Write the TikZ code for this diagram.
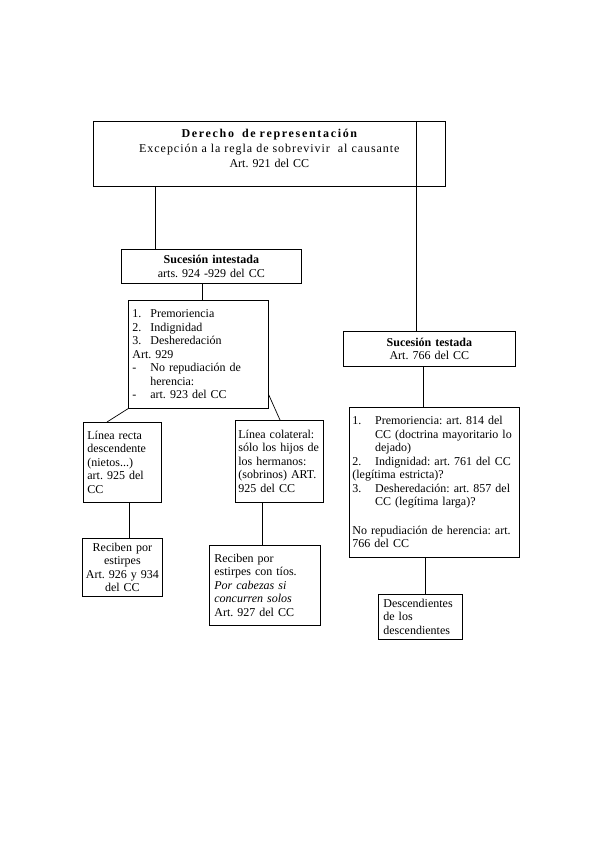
\documentclass[tikz,border=0pt]{standalone}
\usepackage{fontspec}
\setmainfont{Liberation Serif}
\frenchspacing
\tikzset{frame/.style={draw=black,line width=0.7pt,anchor=north west,inner xsep=3pt,inner ysep=2pt,
                       font=\fontsize{12}{13.5}\selectfont},
         conn/.style={draw=black,line width=0.7pt}}
\newcommand{\lnum}[1]{\makebox[1.5em][l]{#1}}
\newcommand{\rnum}[1]{\makebox[1.9em][l]{#1}}

\begin{document}
\begin{tikzpicture}[x=1pt,y=-1pt]
  \useasboundingbox (0,0) rectangle (589,848);
  % boxes placed at their top left corners, in pixels of the page
  \node[frame,font=\fontsize{12}{15}\selectfont,text width=346pt,minimum height=65pt,align=center] (derecho) at (93,121)
    {{\bfseries\addfontfeature{LetterSpace=14}Derecho \ de representación}\\
     {\addfontfeature{LetterSpace=8}Excepción a la regla de sobrevivir \ al causante}\\
     Art. 921 del CC\\[-4pt]\mbox{}};
  \node[frame,text width=174pt,minimum height=34pt,align=center] (intestada) at (121,249)
    {\textbf{Sucesión intestada}\\arts. 924 -929 del CC};
  \node[frame,inner xsep=4pt,text width=132pt,minimum height=108pt,align=left] (causas) at (128,300)
    {\lnum{1.}Premoriencia\\
     \lnum{2.}Indignidad\\
     \lnum{3.}Desheredación\\
     Art. 929\\
     \lnum{-}No repudiación de\\
     \hspace*{1.5em}herencia:\\
     \lnum{-}art. 923 del CC};
  \node[frame,inner xsep=4pt,text width=70pt,minimum height=80pt,align=left] (recta) at (83,422)
    {Línea recta\\descendente\\(nietos...)\\art. 925 del\\CC};
  \node[frame,text width=82pt,minimum height=82pt,align=left] (colateral) at (235,420)
    {Línea colateral:\\sólo los hijos de\\los hermanos:\\(sobrinos) ART.\\925 del CC};
  \node[frame,text width=74pt,minimum height=58pt,align=center] (estirpes) at (82,538)
    {Reciben por\\estirpes\\Art. 926 y 934\\del CC};
  \node[frame,inner xsep=5pt,text width=101pt,minimum height=80pt,align=left] (tios) at (209,545)
    {Reciben por\\estirpes con tíos.\\\textit{Por cabezas si}\\\textit{concurren solos}\\Art. 927 del CC};
  \node[frame,text width=166pt,minimum height=35pt,align=center] (testada) at (343,331)
    {\textbf{Sucesión testada}\\Art. 766 del CC};
  \node[frame,text width=164pt,minimum height=150pt,align=left] (causastest) at (349,407)
    {\rnum{1.}Premoriencia: art. 814 del\\
     \hspace*{1.9em}CC (doctrina mayoritario lo\\
     \hspace*{1.9em}dejado)\\
     \rnum{2.}Indignidad: art. 761 del CC\\
     (legítima estricta)?\\
     \rnum{3.}Desheredación: art. 857 del\\
     \hspace*{1.9em}CC (legítima larga)?\\[15pt]
     No repudiación de herencia: art.\\
     766 del CC};
  \node[frame,inner xsep=5pt,text width=74pt,minimum height=45pt,align=left] (descend) at (378,594)
    {Descendientes\\de los\\descendientes};
  % connectors
  \coordinate (c1) at ([xshift=62pt]derecho.south west);
  \coordinate (c2) at ([xshift=323pt]derecho.north west);
  \coordinate (c3) at ([xshift=81pt]intestada.south west);
  \coordinate (c4) at ([xshift=46pt]recta.south west);
  \coordinate (c5) at ([xshift=27pt]colateral.south west);
  \coordinate (c6) at ([xshift=80pt]testada.south west);
  \coordinate (c7) at ([xshift=76pt]causastest.south west);
  \draw[conn] (c1) -- (c1 |- intestada.north);
  \draw[conn] (c2) -- (c2 |- testada.north);
  \draw[conn] (c3) -- (c3 |- causas.north);
  \draw[conn] (causas.south west) -- ([xshift=24pt]recta.north west);
  \draw[conn] ([yshift=14pt]causas.south east) -- ([xshift=45pt]colateral.north west);
  \draw[conn] (c4) -- (c4 |- estirpes.north);
  \draw[conn] (c5) -- (c5 |- tios.north);
  \draw[conn] (c6) -- (c6 |- causastest.north);
  \draw[conn] (c7) -- (c7 |- descend.north);
\end{tikzpicture}
\end{document}
